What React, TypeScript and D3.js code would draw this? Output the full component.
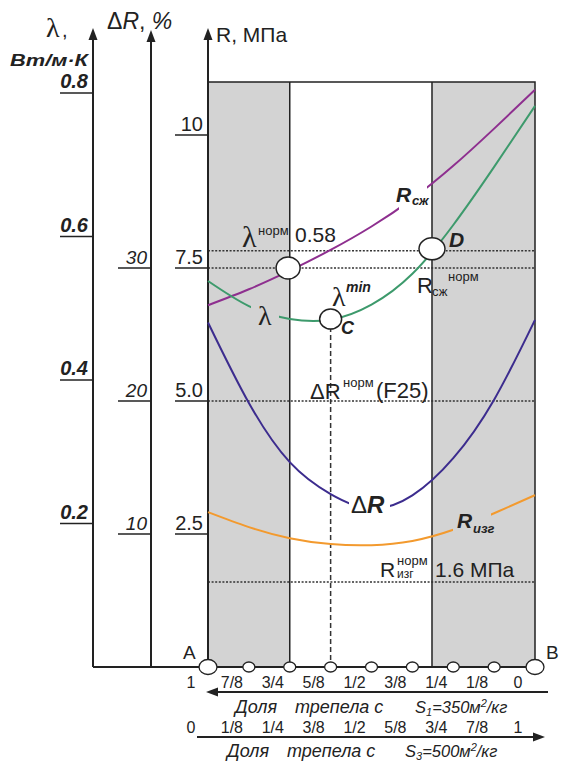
import React from 'react';
import * as d3 from 'd3';

// доля трепела S3 (0..1), по ней строятся все кривые
const fractions = [0, 1 / 8, 1 / 4, 3 / 8, 1 / 2, 5 / 8, 3 / 4, 7 / 8, 1];
const s1Labels = ['1', '7/8', '3/4', '5/8', '1/2', '3/8', '1/4', '1/8', '0'];
const s3Labels = ['0', '1/8', '1/4', '3/8', '1/2', '5/8', '3/4', '7/8', '1'];

// кривые
const rCompress = [6.8, 7.1, 7.45, 7.84, 8.28, 8.8, 9.42, 10.12, 10.85]; // R сж, МПа
const lambda = [0.538, 0.503, 0.485, 0.484, 0.505, 0.548, 0.616, 0.697, 0.782]; // Вт/м·К
const deltaR = [25.9, 19.85, 15.4, 13.0, 11.9, 12.9, 15.7, 20.1, 26.1]; // %
const rBend = [2.91, 2.63, 2.42, 2.31, 2.29, 2.37, 2.58, 2.89, 3.23]; // R изг, МПа

// оси
const lambdaTicks = [0.2, 0.4, 0.6, 0.8];
const deltaTicks = [10, 20, 30];
const rTicks = [2.5, 5.0, 7.5, 10];
const rTickLabels = ['2.5', '5.0', '7.5', '10'];

// нормы и области
const grayBands = [[0, 0.25], [0.685, 1]];
const lambdaNorm = 0.58;
const rCompressNorm = 7.5;
const deltaRNorm = 20;
const rBendNorm = 1.6;
const pointNorm = { f: 0.245, r: 7.5 };
const pointC = { f: 0.375, lambda: 0.485 };
const pointD = { f: 0.685, lambda: 0.58 };

const sans = "'Liberation Sans', Arial, sans-serif";
const serif = "'Liberation Serif', 'Times New Roman', serif";

const purple = '#8e2f8f';
const green = '#3d9a6c';
const indigo = '#3c2c8e';
const orange = '#f39a2e';
const ink = '#222';

export default function App() {
  const x = d3.scaleLinear().domain([0, 1]).range([208, 535]);
  const yR = d3.scaleLinear().domain([0, 10]).range([667, 135]);
  const yL = d3.scaleLinear().domain([0, 0.8]).range([667, 93]);
  const yD = d3.scaleLinear().domain([0, 30]).range([667, 268]);

  const plotTop = 82;
  const base = 667;
  const x0 = x(0), x1 = x(1);

  const mk = (vals: number[], y: any) =>
    d3.line<number>()
      .x((_, i) => x(fractions[i]))
      .y(d => y(d))
      .curve(d3.curveNatural)(vals) || '';

  const arrowUp = (ax: number, tip: number) =>
    `M${ax},${tip} L${ax - 4.5},${tip + 12} L${ax + 4.5},${tip + 12} Z`;

  const axes = [
    { ax: 93, tip: 28 },
    { ax: 151, tip: 30 },
    { ax: 208, tip: 28 },
  ];

  // вырезы в кривых под подписи
  const masks = [
    { id: 'm-rsz', x: 399, y: 170, w: 28, h: 45 },
    { id: 'm-lam', x: 251, y: 295, w: 28, h: 35 },
    { id: 'm-dr', x: 349, y: 488, w: 41, h: 32 },
    { id: 'm-riz', x: 453, y: 505, w: 38, h: 35 },
  ];

  const dotted = [yL(lambdaNorm), yR(rCompressNorm), yD(deltaRNorm), yR(rBendNorm)];

  return (
    <svg width={561} height={763} style={{ position: 'absolute', left: 0, top: 0, background: '#fff' }}>
      <defs>
        {masks.map(m => (
          <mask key={m.id} id={m.id} maskUnits="userSpaceOnUse" x={0} y={0} width={561} height={763}>
            <rect x={0} y={0} width={561} height={763} fill="#fff" />
            <rect x={m.x} y={m.y} width={m.w} height={m.h} fill="#000" />
          </mask>
        ))}
      </defs>

      {/* серые полосы и рамка */}
      {grayBands.map((b, i) => (
        <rect key={i} x={x(b[0])} y={plotTop} width={x(b[1]) - x(b[0])} height={base - plotTop} fill="#d3d3d3" />
      ))}
      <path d={`M${x0},${plotTop} H${x1} V${base}`} fill="none" stroke={ink} strokeWidth={1.5} />
      {grayBands.map((b, i) => (
        <line key={i} x1={x(i === 0 ? b[1] : b[0])} x2={x(i === 0 ? b[1] : b[0])} y1={plotTop} y2={base} stroke={ink} strokeWidth={1.5} />
      ))}

      {/* пунктиры норм */}
      {dotted.map((yy, i) => (
        <line key={i} x1={x0} x2={x1} y1={yy} y2={yy} stroke="#333" strokeWidth={1.5} strokeDasharray="2 1.6" />
      ))}
      <line x1={x(pointC.f)} x2={x(pointC.f)} y1={yL(pointC.lambda) + 8} y2={base} stroke="#333" strokeWidth={1.5} strokeDasharray="5 3" />

      {/* оси */}
      {axes.map((a, i) => (
        <g key={i}>
          <line x1={a.ax} x2={a.ax} y1={a.tip + 6} y2={base} stroke={ink} strokeWidth={2} />
          <path d={arrowUp(a.ax, a.tip)} fill={ink} />
        </g>
      ))}
      <line x1={93} x2={x1} y1={base} y2={base} stroke={ink} strokeWidth={2} />

      {lambdaTicks.map(t => (
        <g key={t}>
          <line x1={60} x2={93} y1={yL(t)} y2={yL(t)} stroke={ink} strokeWidth={1.5} />
          <text x={88} y={yL(t) - 5} textAnchor="end" fontFamily={sans} fontSize={20} fontWeight="bold" fontStyle="italic" fill={ink}>{t.toFixed(1)}</text>
        </g>
      ))}
      {deltaTicks.map(t => (
        <g key={t}>
          <line x1={118} x2={151} y1={yD(t)} y2={yD(t)} stroke={ink} strokeWidth={1.5} />
          <text x={147} y={yD(t) - 4} textAnchor="end" fontFamily={sans} fontSize={19} fontStyle="italic" fill={ink}>{t}</text>
        </g>
      ))}
      {rTicks.map((t, i) => (
        <g key={t}>
          <line x1={175} x2={208} y1={yR(t)} y2={yR(t)} stroke={ink} strokeWidth={1.5} />
          <text x={203} y={yR(t) - 4} textAnchor="end" fontFamily={sans} fontSize={20} fill={ink}>{rTickLabels[i]}</text>
        </g>
      ))}

      {/* заголовки осей */}
      <text x={46} y={37} fontFamily={serif} fontSize={28} fill={ink}>λ</text>
      <text x={62} y={37} fontFamily={sans} fontSize={20} fill={ink}>,</text>
      <text x={10} y={66} fontFamily={sans} fontSize={17} fontWeight="bold" fontStyle="italic" fill={ink} textLength={78} lengthAdjust="spacingAndGlyphs">Вт/м·К</text>
      <text x={107} y={29} fontFamily={sans} fontSize={23} fill={ink}>Δ<tspan fontStyle="italic">R</tspan>, <tspan fontStyle="italic">%</tspan></text>
      <text x={216} y={42} fontFamily={sans} fontSize={21} fill={ink}>R, МПа</text>

      {/* кривые */}
      <path d={mk(rCompress, yR)} fill="none" stroke={purple} strokeWidth={2} mask="url(#m-rsz)" />
      <path d={mk(lambda, yL)} fill="none" stroke={green} strokeWidth={2} mask="url(#m-lam)" />
      <path d={mk(deltaR, yD)} fill="none" stroke={indigo} strokeWidth={2} mask="url(#m-dr)" />
      <path d={mk(rBend, yR)} fill="none" stroke={orange} strokeWidth={2} mask="url(#m-riz)" />

      {/* точки */}
      <ellipse cx={x(pointNorm.f)} cy={yR(pointNorm.r)} rx={12} ry={11} fill="#fff" stroke={ink} strokeWidth={1.5} />
      <ellipse cx={x(pointC.f)} cy={yL(pointC.lambda)} rx={11} ry={10} fill="#fff" stroke={ink} strokeWidth={1.5} />
      <ellipse cx={x(pointD.f)} cy={yL(pointD.lambda) - 2} rx={13} ry={11} fill="#fff" stroke={ink} strokeWidth={1.5} />

      {/* подписи на поле */}
      <g fontFamily={sans} fill={ink}>
        <text x={242} y={247} fontFamily={serif} fontSize={30}>λ</text>
        <text x={258} y={235} fontSize={13}>норм</text>
        <text x={295} y={242} fontSize={21}>0.58</text>

        <text x={258} y={325} fontFamily={serif} fontSize={28}>λ</text>

        <text x={332} y={306} fontFamily={serif} fontSize={28}>λ</text>
        <text x={346} y={292} fontSize={14} fontWeight="bold" fontStyle="italic">min</text>
        <text x={341} y={334} fontSize={18} fontWeight="bold" fontStyle="italic">C</text>

        <text x={449} y={247} fontSize={21} fontWeight="bold" fontStyle="italic">D</text>

        <text x={396} y={202} fontSize={21} fontWeight="bold" fontStyle="italic">R</text>
        <text x={412} y={205} fontSize={13} fontWeight="bold" fontStyle="italic">сж</text>

        <text x={417} y={293} fontSize={22}>R</text>
        <text x={432} y={296} fontSize={13}>сж</text>
        <text x={448} y={281} fontSize={13}>норм</text>

        <text x={310} y={399} fontSize={22}>Δ<tspan>R</tspan></text>
        <text x={343} y={387} fontSize={13}>норм</text>
        <text x={376} y={398} fontSize={22}>(F25)</text>

        <text x={351} y={513} fontSize={24}>Δ<tspan fontWeight="bold" fontStyle="italic">R</tspan></text>

        <text x={457} y={528} fontSize={21} fontWeight="bold" fontStyle="italic">R</text>
        <text x={473} y={533} fontSize={13} fontWeight="bold" fontStyle="italic">изг</text>

        <text x={380} y={577} fontSize={21}>R</text>
        <text x={397} y={578} fontSize={12}>изг</text>
        <text x={397} y={565} fontSize={13}>норм</text>
        <text x={435} y={577} fontSize={21}>1.6 МПа</text>
      </g>

      {/* нижняя шкала */}
      {fractions.map((f, i) => {
        const big = i === 0 || i === fractions.length - 1;
        return (
          <ellipse key={i} cx={x(f)} cy={base} rx={big ? 9 : 6} ry={big ? 7.5 : 5} fill="#fff" stroke={ink} strokeWidth={1.3} />
        );
      })}
      <text x={183} y={659} fontFamily={sans} fontSize={19} fill={ink}>A</text>
      <text x={546} y={659} fontFamily={sans} fontSize={19} fill={ink}>B</text>

      {fractions.map((f, i) => (
        <text key={'s1' + i} x={x(f) - 17} y={688} textAnchor="middle" fontFamily={sans} fontSize={16} fill={ink}>{s1Labels[i]}</text>
      ))}
      <line x1={548} x2={214} y1={692} y2={692} stroke={ink} strokeWidth={2} />
      <path d="M206,692 L218,687.5 L218,696.5 Z" fill={ink} />
      <text x={235} y={713} fontFamily={sans} fontSize={18} fontStyle="italic" fill={ink}>
        Доля<tspan x={295}>трепела с</tspan>
        <tspan x={415} fontSize={16.5}>S</tspan><tspan dy={3} fontSize={11}>1</tspan><tspan dy={-3} fontSize={16.5}>=350м</tspan><tspan dy={-6} fontSize={11}>2</tspan><tspan dy={6} fontSize={16.5}>/кг</tspan>
      </text>

      {fractions.map((f, i) => (
        <text key={'s3' + i} x={x(f) - 17} y={733} textAnchor="middle" fontFamily={sans} fontSize={16} fill={ink}>{s3Labels[i]}</text>
      ))}
      <line x1={197} x2={535} y1={737} y2={737} stroke={ink} strokeWidth={2} />
      <path d="M545,737 L533,732.5 L533,741.5 Z" fill={ink} />
      <text x={227} y={757} fontFamily={sans} fontSize={18} fontStyle="italic" fill={ink}>
        Доля<tspan x={287}>трепела с</tspan>
        <tspan x={405} fontSize={16.5}>S</tspan><tspan dy={3} fontSize={11}>3</tspan><tspan dy={-3} fontSize={16.5}>=500м</tspan><tspan dy={-6} fontSize={11}>2</tspan><tspan dy={6} fontSize={16.5}>/кг</tspan>
      </text>
    </svg>
  );
}
